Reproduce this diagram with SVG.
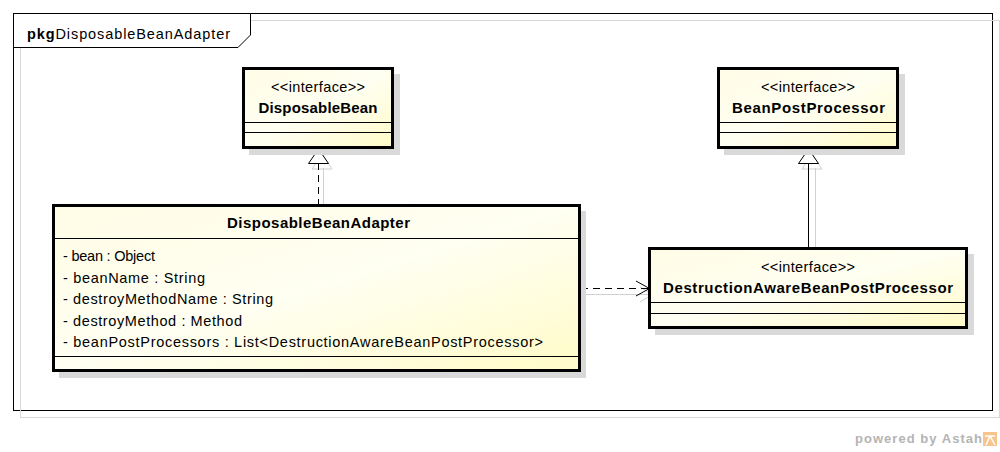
<svg xmlns="http://www.w3.org/2000/svg" width="1000" height="452" viewBox="0 0 1000 452">
<defs>
<linearGradient id="boxfill" x1="0" y1="0" x2="1" y2="1">
<stop offset="0" stop-color="#fffde6"/>
<stop offset="0.5" stop-color="#fffff2"/>
<stop offset="1" stop-color="#fffbc8"/>
</linearGradient>
<style>
.frame{fill:none;stroke:#000;stroke-width:1}
.frameshadow{fill:none;stroke:#d8d8d8;stroke-width:1}
.box{fill:url(#boxfill);stroke:#000;stroke-width:3}
.shadow{fill:#d9d9d9}
.sep{stroke:#000;stroke-width:1}
.t{font-family:"Liberation Sans",Arial,sans-serif;font-size:14.5px;fill:#000}
.b{font-weight:bold;font-size:15px}
.c{text-anchor:middle}
.conn{fill:none;stroke:#000;stroke-width:1}
.dash{stroke-dasharray:7 5}
.cshadow{fill:none;stroke:#d0d0d0;stroke-width:1}
.wm{font-family:"Liberation Sans",Arial,sans-serif;font-size:13px;font-weight:bold;fill:#b4b4b4}
</style>
</defs>
<rect width="1000" height="452" fill="#fff"/>
<g id="package">
<rect class="frame" x="13.5" y="13.5" width="979" height="397"/>
<rect class="frameshadow" x="20.5" y="20.5" width="979" height="397"/>
<path d="M13.5,13.5 L250.5,13.5 L250.5,35 L238,47.5 L13.5,47.5 Z" fill="#fff" stroke="#000" stroke-width="1"/>
<text class="t" x="27" y="39" textLength="203" lengthAdjust="spacing"><tspan style="font-weight:bold">pkg</tspan>DisposableBeanAdapter</text>
</g>
<g id="connectors">
<line class="cshadow" x1="323.5" y1="168" x2="323.5" y2="205"/>
<path class="cshadow" d="M322,154 L332,169 L312,169 Z"/>
<line class="conn dash" x1="318.5" y1="163" x2="318.5" y2="205"/>
<path d="M318.5,149 L328.5,163.5 L308.5,163.5 Z" fill="#fff" stroke="#000" stroke-width="1"/>
<line class="cshadow" x1="815.5" y1="168" x2="815.5" y2="248"/>
<path class="cshadow" d="M812,154 L822,169 L802,169 Z"/>
<line class="conn" x1="808.5" y1="163" x2="808.5" y2="248"/>
<path d="M808.5,149 L818.5,163.5 L798.5,163.5 Z" fill="#fff" stroke="#000" stroke-width="1"/>
<line class="cshadow" x1="582" y1="294.5" x2="650" y2="294.5"/>
<path class="cshadow" d="M640,287 L653,294.5 L640,302"/>
<line class="conn dash" x1="581" y1="288.5" x2="649" y2="288.5"/>
<path class="conn" d="M636,281 L649.5,288.5 L636,296"/>
</g>
<g id="DisposableBean">
<rect class="shadow" x="249" y="74" width="151" height="81"/>
<rect class="box" x="243.5" y="68.5" width="149" height="79"/>
<line class="sep" x1="245" y1="122.5" x2="391" y2="122.5"/>
<line class="sep" x1="245" y1="132.5" x2="391" y2="132.5"/>
<text class="t c" x="318" y="92" textLength="94" lengthAdjust="spacing">&lt;&lt;interface&gt;&gt;</text>
<text class="t b c" x="318" y="112.5" textLength="119" lengthAdjust="spacing">DisposableBean</text>
</g>
<g id="BeanPostProcessor">
<rect class="shadow" x="724" y="74" width="181" height="81"/>
<rect class="box" x="718.5" y="68.5" width="179" height="79"/>
<line class="sep" x1="720" y1="122.5" x2="896" y2="122.5"/>
<line class="sep" x1="720" y1="132.5" x2="896" y2="132.5"/>
<text class="t c" x="808" y="92" textLength="94" lengthAdjust="spacing">&lt;&lt;interface&gt;&gt;</text>
<text class="t b c" x="808.5" y="112.5" textLength="153" lengthAdjust="spacing">BeanPostProcessor</text>
</g>
<g id="DisposableBeanAdapter">
<rect class="shadow" x="59" y="211" width="527" height="167"/>
<rect class="box" x="53.5" y="205.5" width="526" height="165"/>
<line class="sep" x1="55" y1="238.5" x2="578" y2="238.5"/>
<line class="sep" x1="55" y1="356.5" x2="578" y2="356.5"/>
<text class="t b c" x="318.5" y="228" textLength="183" lengthAdjust="spacing">DisposableBeanAdapter</text>
<text class="t" x="63" y="261" textLength="92" lengthAdjust="spacing">- bean : Object</text>
<text class="t" x="63" y="282.5" textLength="142" lengthAdjust="spacing">- beanName : String</text>
<text class="t" x="63" y="304" textLength="210" lengthAdjust="spacing">- destroyMethodName : String</text>
<text class="t" x="63" y="325.5" textLength="179" lengthAdjust="spacing">- destroyMethod : Method</text>
<text class="t" x="63" y="347" textLength="480" lengthAdjust="spacing">- beanPostProcessors : List&lt;DestructionAwareBeanPostProcessor&gt;</text>
</g>
<g id="DestructionAwareBeanPostProcessor">
<rect class="shadow" x="655" y="254" width="319" height="81"/>
<rect class="box" x="649.5" y="248.5" width="317" height="79"/>
<line class="sep" x1="651" y1="302.5" x2="965" y2="302.5"/>
<line class="sep" x1="651" y1="313.5" x2="965" y2="313.5"/>
<text class="t c" x="808" y="272" textLength="94" lengthAdjust="spacing">&lt;&lt;interface&gt;&gt;</text>
<text class="t b c" x="808" y="293" textLength="290" lengthAdjust="spacing">DestructionAwareBeanPostProcessor</text>
</g>
<g id="watermark">
<text class="wm" x="855" y="443" textLength="127" lengthAdjust="spacing">powered by Astah</text>
<rect x="983" y="432" width="14" height="14" fill="#f7c48c"/>
<path d="M985,436 L995,436 M990,436 L986,445 M990,436 L995,445" stroke="#fff" stroke-width="1.5" fill="none"/>
</g>
</svg>
